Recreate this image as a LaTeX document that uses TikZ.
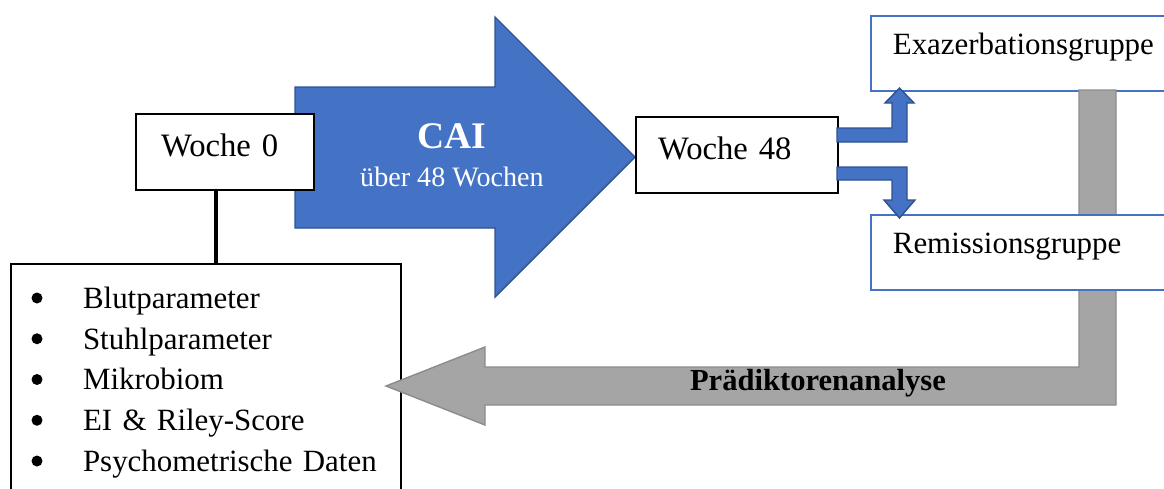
\documentclass[tikz,border=0pt]{standalone}
\usepackage{fontspec}
\setmainfont{Liberation Serif}
\usetikzlibrary{backgrounds,calc,positioning}
\definecolor{caiblue}{HTML}{4472C4}
\definecolor{caiedge}{HTML}{2F528F}
\definecolor{anagray}{HTML}{A5A5A5}
\definecolor{anaedge}{HTML}{8C8C8C}
\newcommand\boxfont{\fontsize{17.6}{23.2}\selectfont}
\newcommand\weekfont{\fontsize{18.6}{22}\selectfont}
\newcommand\bulletgap{\hspace*{1cm}}
\tikzset{
    study diagram/.style = {x=0.02cm, y=-0.02cm},
    wbox/.style          = {draw, line width=1.2pt, fill=white, font=\weekfont,
                            minimum height=1.52cm, text depth=0.28cm,
                            align=left, anchor=north west},
    gbox/.style          = {draw=caiblue, line width=1pt, fill=white, font=\boxfont,
                            minimum height=1.5cm, text width=5.32cm, align=left,
                            text depth=0.37cm, inner xsep=0.44cm, anchor=north west},
    listbox/.style       = {draw, line width=1.2pt, fill=white, font=\boxfont,
                            text width=6.92cm, inner xsep=0.44cm, align=left,
                            minimum height=4.74cm, anchor=north west},
    bluearrow/.style     = {fill=caiblue, draw=caiedge, line width=0.8pt},
    grayarrow/.style     = {fill=anagray, draw=anaedge, line width=0.8pt},
    stem/.style          = {line width=2.3pt},
    caption/.style       = {text=white}
}

\begin{document}
\begin{tikzpicture}[study diagram]
\useasboundingbox (0,0) rectangle (1164,488);
\clip (0,0) rectangle (1164,488);

% ================= Time points =================
\node[wbox, text width=2.56cm, inner xsep=0.5cm] (w0) at (135,113) {Woche 0};
\node[wbox, text width=3.16cm, inner xsep=0.44cm] (w48) at (635,116) {Woche 48};

% ================= Outcome groups (top) =================
\node[gbox] (exa) at (870,15) {Exazerbationsgruppe};

% ================= Baseline parameters =================
\node[listbox] (list) at (10,263) {%
    \bulletgap Blutparameter\\
    \bulletgap Stuhlparameter\\
    \bulletgap Mikrobiom\\
    \bulletgap EI \& Riley-Score\\
    \bulletgap Psychometrische Daten};
\foreach \i in {0,...,4}
    \fill (37, 298+40.75*\i) circle[radius=0.11cm];
\draw[stem] ([xshift=-0.18cm]w0.south) -- ([xshift=-0.18cm]w0.south |- list.north);

% ================= Therapy arrow behind the boxes =================
\begin{scope}[on background layer]
    \filldraw[bluearrow] (295,87) -- (495,87) -- (495,17) -- (635,157)
        -- (495,297) -- (495,228) -- (295,228) -- cycle;
\end{scope}

% ================= Feedback arrow =================
\filldraw[grayarrow] (1079,90) -- (1116,90) -- (1116,405) -- (485,405)
    -- (485,425) -- (386,386) -- (485,347) -- (485,367) -- (1079,367) -- cycle;

% ================= Outcome groups (bottom) =================
\node[gbox] (rem) at (870,214) {Remissionsgruppe};

% ================= Arrow labels =================
\node[caption, font=\fontsize{21.4}{24}\selectfont\bfseries] (cai) at (452,136) {CAI};
\node[caption, font=\fontsize{16}{19}\selectfont] (caisub) at (452,177) {über 48 Wochen};
\node[font=\fontsize{17.4}{20}\selectfont\bfseries] (pred) at (818,383)
    {Prädiktorenanalyse};

% ================= Split into groups =================
\filldraw[bluearrow] (837,128) -- (892,128) -- (892,103) -- (885,103) -- (899.5,88)
    -- (914,103) -- (907,103) -- (907,142) -- (837,142) -- cycle;
\filldraw[bluearrow] (837,167) -- (907,167) -- (907,200) -- (915,200) -- (899.5,218)
    -- (884,200) -- (892,200) -- (892,180) -- (837,180) -- cycle;

\end{tikzpicture}
\end{document}
